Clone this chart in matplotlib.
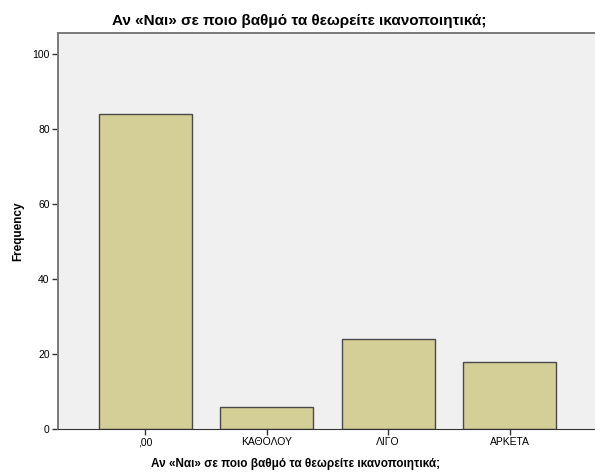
import matplotlib.pyplot as plt

# Data
categories = [",00", "ΚΑΘΟΛΟΥ", "ΛΙΓΟ", "ΑΡΚΕΤΑ"]
frequencies = [84, 6, 24, 18]
y_ticks = [0, 20, 40, 60, 80, 100]

TITLE = "Αν «Ναι» σε ποιο βαθμό τα θεωρείτε ικανοποιητικά;"

plt.rcParams["font.family"] = ["Liberation Sans", "DejaVu Sans"]

fig = plt.figure(figsize=(5.95, 4.73), dpi=100)
ax = fig.add_axes([58 / 595, 44 / 473, 540 / 595, 396 / 473])
ax.set_facecolor("#f0f0f0")

x = range(len(categories))
ax.bar(x, frequencies, width=0.765, color="#d3cf97", edgecolor="#4a4a4a", linewidth=1.0, zorder=2)

ax.set_xlim(-0.716, 3.725)
ax.set_ylim(0, 105.6)
ax.set_yticks(y_ticks)
ax.set_xticks(list(x))
ax.set_xticklabels(categories)
ax.tick_params(axis="both", labelsize=7.5, length=4, width=1, color="#333333", pad=2)

for side in ["top", "right", "left"]:
    ax.spines[side].set_color("#7a7a7a")
    ax.spines[side].set_linewidth(1.4)
ax.spines["bottom"].set_color("#333333")

ax.set_ylabel("Frequency", fontsize=8.5, fontweight="bold")
ax.yaxis.set_label_coords(-0.062, 0.5)
ax.set_xlabel(TITLE, fontsize=8.5, fontweight="bold")
ax.xaxis.set_label_coords(0.44, -0.074)
fig.text(299 / 595, 1 - 21 / 473, TITLE, ha="center", va="center", fontsize=11, fontweight="bold")

fig.savefig("out.png", dpi=100)
